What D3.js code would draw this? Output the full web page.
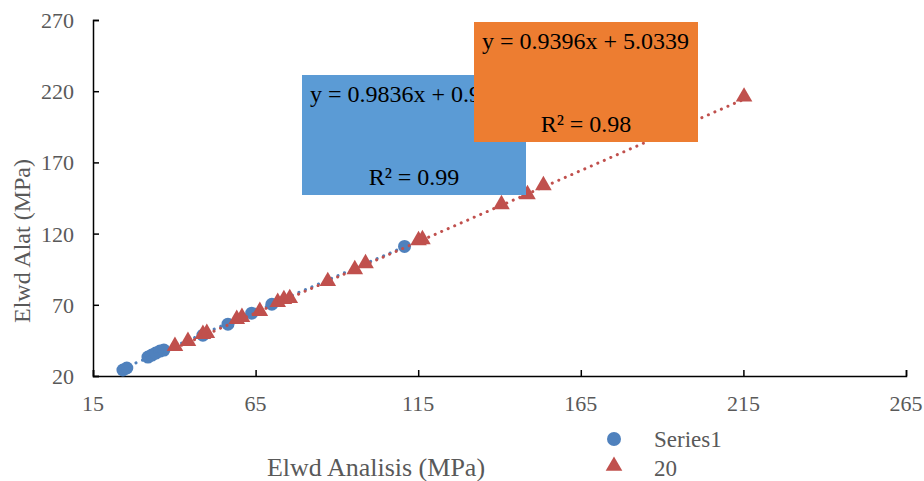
<!DOCTYPE html>
<html>
<head>
<meta charset="utf-8">
<script src="https://cdn.jsdelivr.net/npm/d3@7"></script>
<style>
  body { margin: 0; background: #fff; }
  text { font-family: "Liberation Serif", "Times New Roman", serif; }
</style>
</head>
<body>
<div id="chart"></div>
<script>
// values
let series1X = [24.2, 25.4, 31.9, 33.1, 34.3, 35.6, 36.8, 48.8, 56.5, 63.8, 70.0, 110.8];
let series1Y = [24.2, 25.6, 33.3, 34.7, 36.1, 37.5, 38.2, 48.7, 56.4, 64.1, 70.4, 111.0];
let series20X = [40.2, 44.2, 48.8, 50.0, 59.2, 60.8, 66.3, 71.8, 73.7, 75.5, 87.2, 95.5, 98.8, 115.1, 116.3, 140.6, 148.6, 153.5, 215.2];
let series20Y = [40.3, 43.8, 48.7, 49.4, 59.2, 60.6, 64.8, 71.1, 73.2, 73.9, 85.8, 94.2, 98.4, 114.5, 115.2, 139.8, 146.8, 153.1, 215.4];
let xTicks = [15, 65, 115, 165, 215, 265];
let yTicks = [20, 70, 120, 170, 220, 270];
let labels1 = ['y = 0.9836x + 0.9512', 'R² = 0.99'];
let labels20 = ['y = 0.9396x + 5.0339', 'R² = 0.98'];
let legendNames = ['Series1', '20'];

let width = 924, height = 481;
let blue = '#4f81bd', red = '#c0504d', grey = '#595959';

let svg = d3.select('#chart').append('svg')
    .attr('width', width).attr('height', height);

let x = d3.scaleLinear().domain([15, 265]).range([93, 906]);
let y = d3.scaleLinear().domain([20, 270]).range([376, 20]);

// axes, ticks pointing inward
svg.append('g').attr('transform', 'translate(0,376)')
    .call(d3.axisTop(x).tickValues(xTicks).tickSize(6).tickFormat(''));
svg.append('g').attr('transform', 'translate(93,0)')
    .call(d3.axisRight(y).tickValues(yTicks).tickSize(6).tickFormat(''));
svg.selectAll('.domain, .tick line').attr('stroke', '#000').attr('stroke-width', 1.5);

svg.selectAll('.xlab').data(xTicks).enter().append('text')
    .attr('x', d => x(d)).attr('y', 411)
    .attr('text-anchor', 'middle').attr('fill', grey).style('font-size', '22px')
    .text(d => d);
svg.selectAll('.ylab').data(yTicks).enter().append('text')
    .attr('x', 74).attr('y', d => y(d) + 8)
    .attr('text-anchor', 'end').attr('fill', grey).style('font-size', '22px')
    .text(d => d);

svg.append('text').attr('x', 376).attr('y', 476)
    .attr('text-anchor', 'middle').attr('fill', grey).style('font-size', '26px')
    .text('Elwd Analisis (MPa)');
svg.append('text').attr('transform', 'translate(30,241) rotate(-90)')
    .attr('text-anchor', 'middle').attr('fill', grey).style('font-size', '24px')
    .text('Elwd Alat (MPa)');

// least squares trend line through a series
function fit(xs, ys) {
    let mx = d3.mean(xs), my = d3.mean(ys);
    let b = d3.sum(xs, (v, i) => (v - mx) * (ys[i] - my)) / d3.sum(xs, v => (v - mx) * (v - mx));
    return [b, my - b * mx];
}
function trend(xs, ys, color) {
    let [b, a] = fit(xs, ys);
    let x0 = d3.min(xs), x1 = d3.max(xs);
    svg.append('line')
        .attr('x1', x(x0)).attr('y1', y(a + b * x0))
        .attr('x2', x(x1)).attr('y2', y(a + b * x1))
        .attr('stroke', color).attr('stroke-width', 3)
        .attr('stroke-dasharray', '0.1 7').attr('stroke-linecap', 'round');
}

let tri = d3.symbol().type(d3.symbolTriangle).size(120);

svg.selectAll('.s1').data(series1X).enter().append('circle')
    .attr('cx', d => x(d)).attr('cy', (d, i) => y(series1Y[i]))
    .attr('r', 6.5).attr('fill', blue);
trend(series1X, series1Y, blue);
svg.selectAll('.s20').data(series20X).enter().append('path')
    .attr('d', tri)
    .attr('transform', (d, i) => `translate(${x(d)},${y(series20Y[i]) - 1})`)
    .attr('fill', red);
trend(series20X, series20Y, red);

// trend labels
function box(x0, y0, color, lines) {
    svg.append('rect').attr('x', x0).attr('y', y0).attr('width', 224).attr('height', 120).attr('fill', color);
    svg.append('text').attr('x', x0 + 8).attr('y', y0 + 27).attr('fill', '#000').style('font-size', '24px').text(lines[0]);
    svg.append('text').attr('x', x0 + 112).attr('y', y0 + 110).attr('text-anchor', 'middle')
        .attr('fill', '#000').style('font-size', '24px').text(lines[1]);
}
box(302, 75, '#5b9bd5', labels1);
box(474, 22, '#ed7d31', labels20);

// legend
let legend = svg.append('g');
legend.append('circle').attr('cx', 614).attr('cy', 439).attr('r', 7).attr('fill', blue);
legend.append('path').attr('d', tri).attr('transform', 'translate(614,466)').attr('fill', red);
legend.selectAll('text').data(legendNames).enter().append('text')
    .attr('x', 654).attr('y', (d, i) => 447 + i * 29)
    .attr('fill', grey).style('font-size', '23px').text(d => d);
</script>
</body>
</html>
